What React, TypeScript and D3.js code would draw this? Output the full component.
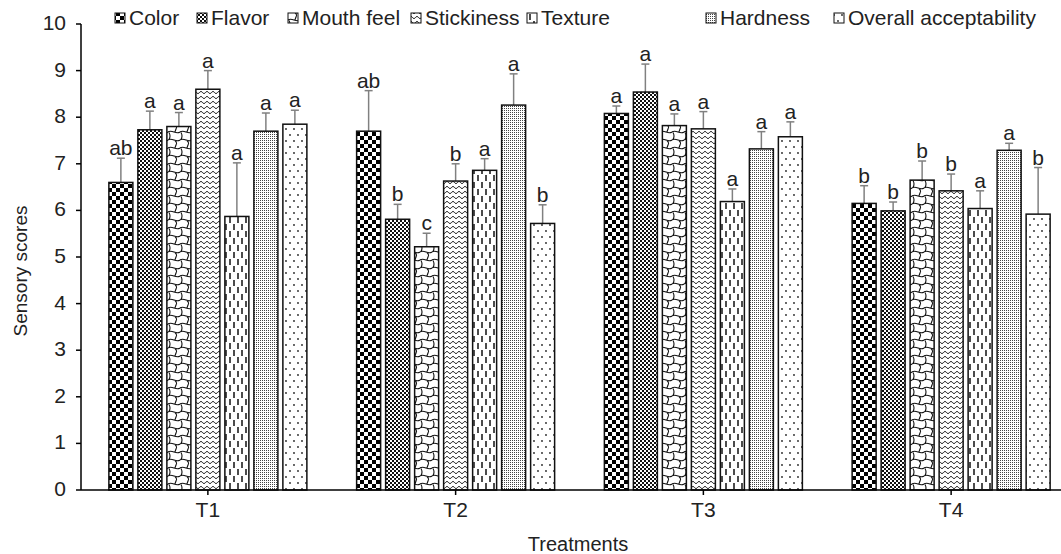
import React, { useRef, useEffect } from 'react';
import * as d3 from 'd3';

// treatments on the x axis
const treatments = ['T1', 'T2', 'T3', 'T4'];
const attributes = ['Color', 'Flavor', 'Mouth feel', 'Stickiness', 'Texture', 'Hardness', 'Overall acceptability'];

// mean scores, one array per attribute (T1..T4)
const color = [6.6, 7.7, 8.08, 6.15];
const flavor = [7.73, 5.81, 8.54, 5.99];
const mouthFeel = [7.8, 5.22, 7.82, 6.65];
const stickiness = [8.6, 6.63, 7.75, 6.42];
const texture = [5.87, 6.86, 6.19, 6.04];
const hardness = [7.7, 8.26, 7.32, 7.29];
const overall = [7.85, 5.72, 7.58, 5.92];

// standard deviations
const colorSd = [0.52, 0.87, 0.16, 0.38];
const flavorSd = [0.4, 0.32, 0.6, 0.19];
const mouthFeelSd = [0.3, 0.29, 0.25, 0.41];
const stickinessSd = [0.4, 0.37, 0.37, 0.36];
const textureSd = [1.15, 0.25, 0.27, 0.38];
const hardnessSd = [0.39, 0.67, 0.37, 0.15];
const overallSd = [0.3, 0.4, 0.32, 1.0];

// significance letters
const colorSig = ['ab', 'ab', 'a', 'b'];
const flavorSig = ['a', 'b', 'a', 'b'];
const mouthFeelSig = ['a', 'c', 'a', 'b'];
const stickinessSig = ['a', 'b', 'a', 'b'];
const textureSig = ['a', 'a', 'a', 'a'];
const hardnessSig = ['a', 'a', 'a', 'a'];
const overallSig = ['a', 'b', 'a', 'b'];

const yTicks = [0, 1, 2, 3, 4, 5, 6, 7, 8, 9, 10];

const values = [color, flavor, mouthFeel, stickiness, texture, hardness, overall];
const sds = [colorSd, flavorSd, mouthFeelSd, stickinessSd, textureSd, hardnessSd, overallSd];
const sigs = [colorSig, flavorSig, mouthFeelSig, stickinessSig, textureSig, hardnessSig, overallSig];

const legendX = [115, 197, 288, 411, 527, 706, 834];

const FONT = 'Liberation Sans, Arial, sans-serif';
const TEXT = '#222';

const App = () => {
  const svgRef = useRef<SVGSVGElement>(null);

  useEffect(() => {
    const svg = d3.select(svgRef.current);
    svg.selectAll('*').remove();

    const width = 1061, height = 554;
    const margin = { left: 81, top: 24, bottom: 64 };
    const plotBottom = height - margin.bottom; // 490

    const x = d3.scaleBand().domain(treatments).range([84, 1075]);
    const y = d3.scaleLinear().domain([0, 10]).range([plotBottom, margin.top]);

    const barW = 24, pitch = 29;
    const groupW = pitch * attributes.length - (pitch - barW);

    // patterns
    const defs = svg.append('defs');
    const mk = (id, w, h) => {
      const p = defs.append('pattern').attr('id', id).attr('patternUnits', 'userSpaceOnUse')
        .attr('width', w).attr('height', h);
      p.append('rect').attr('width', w).attr('height', h).attr('fill', '#fff');
      return p;
    };
    // color: big checker
    let p = mk('p0', 8, 8);
    p.append('rect').attr('width', 4).attr('height', 4).attr('fill', '#000');
    p.append('rect').attr('x', 4).attr('y', 4).attr('width', 4).attr('height', 4).attr('fill', '#000');
    // flavor: small checker
    p = mk('p1', 4, 4);
    p.append('rect').attr('width', 2).attr('height', 2).attr('fill', '#111');
    p.append('rect').attr('x', 2).attr('y', 2).attr('width', 2).attr('height', 2).attr('fill', '#111');
    // mouth feel: curved bricks
    p = mk('p2', 12, 16);
    p.append('path')
      .attr('d', 'M0,4 C4,1 8,7 12,4 M0,12 C4,9 8,15 12,12 M1,4.5 Q3,8 1,11.5 M7,12.5 Q9,14.5 8.4,16 M8.4,0 Q7.6,2 7,3.8')
      .attr('fill', 'none').attr('stroke', '#111').attr('stroke-width', 1.1);
    // stickiness: wave
    p = mk('p3', 6, 5);
    p.append('path').attr('d', 'M0,3.5 C1.5,3.5 1.5,1.5 3,1.5 C4.5,1.5 4.5,3.5 6,3.5').attr('fill', 'none')
      .attr('stroke', '#111').attr('stroke-width', 1);
    // texture: dashed verticals
    p = mk('p4', 8, 14);
    p.append('path').attr('d', 'M2,0 L2,6 M6,7 L6,13').attr('stroke', '#111').attr('stroke-width', 1.5);
    // hardness: fine stipple
    p = mk('p5', 2, 2);
    p.append('rect').attr('width', 1).attr('height', 1).attr('fill', '#444');
    // overall: sparse dots
    p = mk('p6', 8, 12);
    p.append('circle').attr('cx', 2).attr('cy', 3).attr('r', 0.9).attr('fill', '#222');
    p.append('circle').attr('cx', 6).attr('cy', 9).attr('r', 0.9).attr('fill', '#222');

    // bars
    const g = svg.append('g');
    treatments.forEach((t, ti) => {
      const x0 = x(t) + x.bandwidth() / 2 - groupW / 2;
      attributes.forEach((a, ai) => {
        const v = values[ai][ti];
        const bx = x0 + ai * pitch;
        const cx = bx + barW / 2;
        const top = y(v + sds[ai][ti]);
        g.append('line').attr('x1', cx).attr('x2', cx).attr('y1', y(v)).attr('y2', top)
          .attr('stroke', '#808080').attr('stroke-width', 1.5);
        g.append('line').attr('x1', cx - 4).attr('x2', cx + 4).attr('y1', top).attr('y2', top)
          .attr('stroke', '#808080').attr('stroke-width', 1.5);
        g.append('rect').attr('x', bx).attr('y', y(v)).attr('width', barW).attr('height', plotBottom - y(v))
          .attr('fill', `url(#p${ai})`).attr('stroke', '#111').attr('stroke-width', 1.5);
        g.append('text').attr('x', cx).attr('y', top - 3).attr('text-anchor', 'middle')
          .attr('font-family', FONT).attr('font-size', 21).attr('fill', TEXT).text(sigs[ai][ti]);
      });
    });

    // axes
    svg.append('line').attr('x1', margin.left).attr('x2', margin.left).attr('y1', y(10)).attr('y2', plotBottom)
      .attr('stroke', '#000').attr('stroke-width', 1.5);
    svg.append('line').attr('x1', margin.left).attr('x2', width).attr('y1', plotBottom).attr('y2', plotBottom)
      .attr('stroke', '#000').attr('stroke-width', 1.5);
    yTicks.forEach(t => {
      svg.append('line').attr('x1', margin.left - 5).attr('x2', margin.left).attr('y1', y(t)).attr('y2', y(t))
        .attr('stroke', '#000').attr('stroke-width', 1.5);
      svg.append('text').attr('x', 66).attr('y', y(t) + 6).attr('text-anchor', 'end')
        .attr('font-family', FONT).attr('font-size', 21).attr('fill', TEXT).text(t);
    });
    treatments.forEach(t => {
      const cx = x(t) + x.bandwidth() / 2;
      svg.append('line').attr('x1', cx).attr('x2', cx).attr('y1', plotBottom).attr('y2', plotBottom + 5)
        .attr('stroke', '#000').attr('stroke-width', 1.5);
      svg.append('text').attr('x', cx).attr('y', plotBottom + 27).attr('text-anchor', 'middle')
        .attr('font-family', FONT).attr('font-size', 21).attr('fill', TEXT).text(t);
    });

    svg.append('text').attr('x', 578).attr('y', 551).attr('text-anchor', 'middle')
      .attr('font-family', FONT).attr('font-size', 20).attr('fill', TEXT).text('Treatments');
    svg.append('text').attr('transform', 'translate(27,271) rotate(-90)').attr('text-anchor', 'middle')
      .attr('font-family', FONT).attr('font-size', 19).attr('fill', TEXT).text('Sensory scores');

    // legend
    attributes.forEach((a, i) => {
      const lx = legendX[i];
      svg.append('rect').attr('x', lx).attr('y', 13).attr('width', 10).attr('height', 10)
        .attr('fill', `url(#p${i})`).attr('stroke', '#111').attr('stroke-width', 1);
      svg.append('text').attr('x', lx + 14).attr('y', 25).attr('font-family', FONT).attr('font-size', 21)
        .attr('fill', TEXT).text(a);
    });
  }, []);

  return (
    <div style={{ position: 'absolute', left: 0, top: 0 }}>
      <svg ref={svgRef} width={1061} height={554} style={{ display: 'block', background: '#fff' }}></svg>
    </div>
  );
};

export default App;
